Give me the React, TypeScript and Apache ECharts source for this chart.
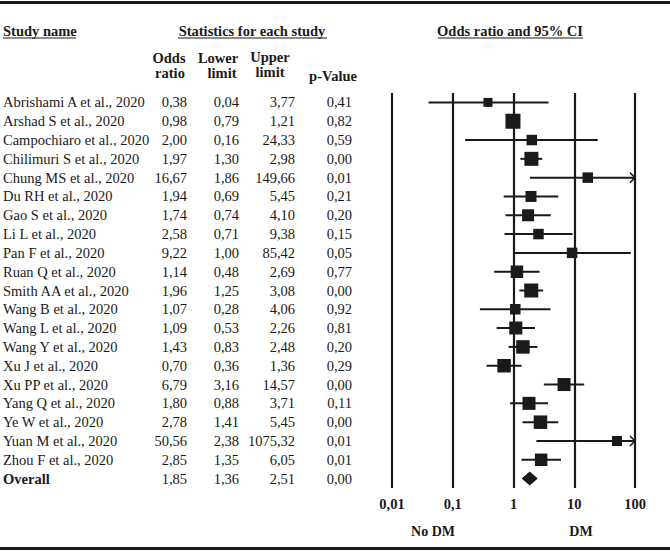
import React, { useEffect, useRef } from "react";
import * as echarts from "echarts";

const studies = [
  "Abrishami A et al., 2020",
  "Arshad S et al., 2020",
  "Campochiaro et al., 2020",
  "Chilimuri S et al., 2020",
  "Chung MS et al., 2020",
  "Du RH et al., 2020",
  "Gao S et al., 2020",
  "Li L et al., 2020",
  "Pan F et al., 2020",
  "Ruan Q et al., 2020",
  "Smith AA et al., 2020",
  "Wang B et al., 2020",
  "Wang L et al., 2020",
  "Wang Y et al., 2020",
  "Xu J et al., 2020",
  "Xu PP et al., 2020",
  "Yang Q et al., 2020",
  "Ye W et al., 2020",
  "Yuan M et al., 2020",
  "Zhou F et al., 2020",
];
const oddsRatios = [0.38, 0.98, 2.0, 1.97, 16.67, 1.94, 1.74, 2.58, 9.22, 1.14, 1.96, 1.07, 1.09, 1.43, 0.7, 6.79, 1.8, 2.78, 50.56, 2.85];
const lowerLimits = [0.04, 0.79, 0.16, 1.3, 1.86, 0.69, 0.74, 0.71, 1.0, 0.48, 1.25, 0.28, 0.53, 0.83, 0.36, 3.16, 0.88, 1.41, 2.38, 1.35];
const upperLimits = [3.77, 1.21, 24.33, 2.98, 149.66, 5.45, 4.1, 9.38, 85.42, 2.69, 3.08, 4.06, 2.26, 2.48, 1.36, 14.57, 3.71, 5.45, 1075.32, 6.05];
const pValues = [0.41, 0.82, 0.59, 0.0, 0.01, 0.21, 0.2, 0.15, 0.05, 0.77, 0.0, 0.92, 0.81, 0.2, 0.29, 0.0, 0.11, 0.0, 0.01, 0.01];
const relativeWeights = [8.1, 22.5, 11, 19.6, 11, 12.1, 14.4, 11, 11, 15.6, 19.6, 11, 16.9, 18.2, 18.2, 16.9, 16.9, 18.2, 10, 15.6];
const overallLabel = "Overall";
const overall = { or: 1.85, lower: 1.36, upper: 2.51, p: 0.0 };
const xTickLabels = ["0,01", "0,1", "1", "10", "100"];

const FONT = '"Liberation Serif", "Times New Roman", serif';
const INK = "#1a1a1a";
const FS = 14.5;
const fmt = (v: number) => v.toFixed(2).replace(".", ",");

export default function App() {
  const ref = useRef<HTMLDivElement>(null);
  useEffect(() => {
    if (!ref.current) return;
    const chart = echarts.init(ref.current, null, { renderer: "svg" });
    const gridLeft = 392;
    const rowNames = [...studies, overallLabel];
    const orLabels = [...oddsRatios, overall.or].map(fmt);
    const loLabels = [...lowerLimits, overall.lower].map(fmt);
    const upLabels = [...upperLimits, overall.upper].map(fmt);
    const pLabels = [...pValues, overall.p].map(fmt);
    const lastIdx = rowNames.length - 1;

    const colAxis = (labels: string[], edge: number, align: string, boldLast: boolean) => ({
      type: "category",
      position: "left",
      offset: 0,
      inverse: true,
      gridIndex: 0,
      data: labels,
      axisLine: { show: false },
      axisTick: { show: false },
      splitLine: { show: false },
      axisLabel: {
        interval: 0,
        align,
        margin: gridLeft - edge,
        color: INK,
        fontFamily: FONT,
        fontSize: FS,
        formatter: (v: string, i: number) => (boldLast && i === lastIdx ? `{b|${v}}` : v),
        rich: { b: { fontWeight: "bold", fontFamily: FONT, fontSize: FS, color: INK } },
      },
    });

    const studyData = studies.map((s, i) => [lowerLimits[i], upperLimits[i], oddsRatios[i], i, relativeWeights[i]]);
    const xMax = 100;

    const hdr = (text: string, x: number, y: number, size = FS) => ({
      type: "text",
      x,
      y,
      style: { text, font: `bold ${size}px ${FONT}`, fill: INK, textAlign: "center", textVerticalAlign: "middle" },
    });

    const option: any = {
      animation: false,
      backgroundColor: "#ffffff",
      grid: { left: gridLeft, right: 35, top: 93, bottom: 63, outerBoundsMode: "none", containLabel: false },
      xAxis: {
        type: "log",
        logBase: 10,
        min: 0.01,
        max: xMax,
        axisLine: { show: false },
        axisTick: { show: false },
        splitLine: { show: true, lineStyle: { color: INK, width: 2.2 } },
        axisLabel: {
          margin: 8,
          color: INK,
          fontFamily: FONT,
          fontSize: FS,
          fontWeight: "bold",
          formatter: (v: number) => xTickLabels[Math.round(Math.log10(v)) + 2] ?? "",
        },
      },
      yAxis: [
        {
          type: "category",
          position: "left",
          inverse: true,
          data: rowNames,
          axisLine: { show: false },
          axisTick: { show: false },
          splitLine: { show: false },
          axisLabel: { show: false },
        },
        colAxis(rowNames, 3, "left", true),
        colAxis(orLabels, 187, "right", false),
        colAxis(loLabels, 239, "right", false),
        colAxis(upLabels, 295, "right", false),
        colAxis(pLabels, 352, "right", false),
      ],
      series: [
        {
          type: "custom",
          xAxisIndex: 0,
          yAxisIndex: 0,
          clip: false,
          encode: { x: [0, 1, 2], y: 3 },
          data: studyData,
          renderItem: (params: any, api: any) => {
            const lo = api.value(0);
            const hi = api.value(1);
            const or = api.value(2);
            const row = api.value(3);
            const w = api.value(4);
            const cy = api.coord([1, row])[1];
            const xl = api.coord([lo, row])[0];
            const xh = api.coord([Math.min(hi, xMax), row])[0];
            const xo = api.coord([or, row])[0];
            const side = Math.sqrt(w * 10);
            const children: any[] = [
              { type: "line", shape: { x1: xl, y1: cy, x2: xh, y2: cy }, style: { stroke: INK, lineWidth: 2 } },
            ];
            if (hi > xMax) {
              children.push({
                type: "polyline",
                shape: { points: [[xh - 5, cy - 5], [xh, cy], [xh - 5, cy + 5]] },
                style: { stroke: INK, lineWidth: 1.5, fill: "none" },
              });
            }
            children.push({
              type: "rect",
              shape: { x: xo - side / 2, y: cy - side / 2, width: side, height: side },
              style: { fill: INK },
            });
            return { type: "group", children };
          },
        },
        {
          type: "custom",
          xAxisIndex: 0,
          yAxisIndex: 0,
          clip: false,
          encode: { x: [0, 1, 2], y: 3 },
          data: [[overall.lower, overall.upper, overall.or, lastIdx]],
          renderItem: (params: any, api: any) => {
            const row = api.value(3);
            const cy = api.coord([1, row])[1];
            const xl = api.coord([api.value(0), row])[0];
            const xh = api.coord([api.value(1), row])[0];
            const xo = api.coord([api.value(2), row])[0];
            return {
              type: "polygon",
              shape: { points: [[xl, cy], [xo, cy - 7], [xh, cy], [xo, cy + 7]] },
              style: { fill: INK },
            };
          },
        },
      ],
      graphic: [
        { type: "rect", left: 0, top: 1, shape: { width: 670, height: 3 }, style: { fill: INK } },
        { type: "rect", left: 0, top: 547, shape: { width: 670, height: 3 }, style: { fill: INK } },
        {
          type: "text", x: 3, y: 31,
          style: { text: "Study name", font: `bold ${FS}px ${FONT}`, fill: INK, textAlign: "left", textVerticalAlign: "middle" },
        },
        { type: "line", shape: { x1: 3, y1: 38, x2: 76, y2: 38 }, style: { stroke: INK, lineWidth: 1 } },
        hdr("Statistics for each study", 252, 31),
        { type: "line", shape: { x1: 178, y1: 38, x2: 327, y2: 38 }, style: { stroke: INK, lineWidth: 1 } },
        hdr("Odds ratio and 95% CI", 510, 31),
        { type: "line", shape: { x1: 438, y1: 38, x2: 583, y2: 38 }, style: { stroke: INK, lineWidth: 1 } },
        hdr("Odds", 169, 58),
        hdr("ratio", 170, 73),
        hdr("Lower", 218, 58),
        hdr("limit", 222, 73),
        hdr("Upper", 270, 57),
        hdr("limit", 270, 72),
        hdr("p-Value", 333, 76),
        hdr("No DM", 433, 531, 14),
        hdr("DM", 581, 531, 14),
      ],
    };
    chart.setOption(option);
    return () => chart.dispose();
  }, []);
  return (
    <div
      ref={ref}
      style={{ position: "fixed", left: 0, top: 0, width: 670, height: 551, background: "#fff" }}
    />
  );
}
